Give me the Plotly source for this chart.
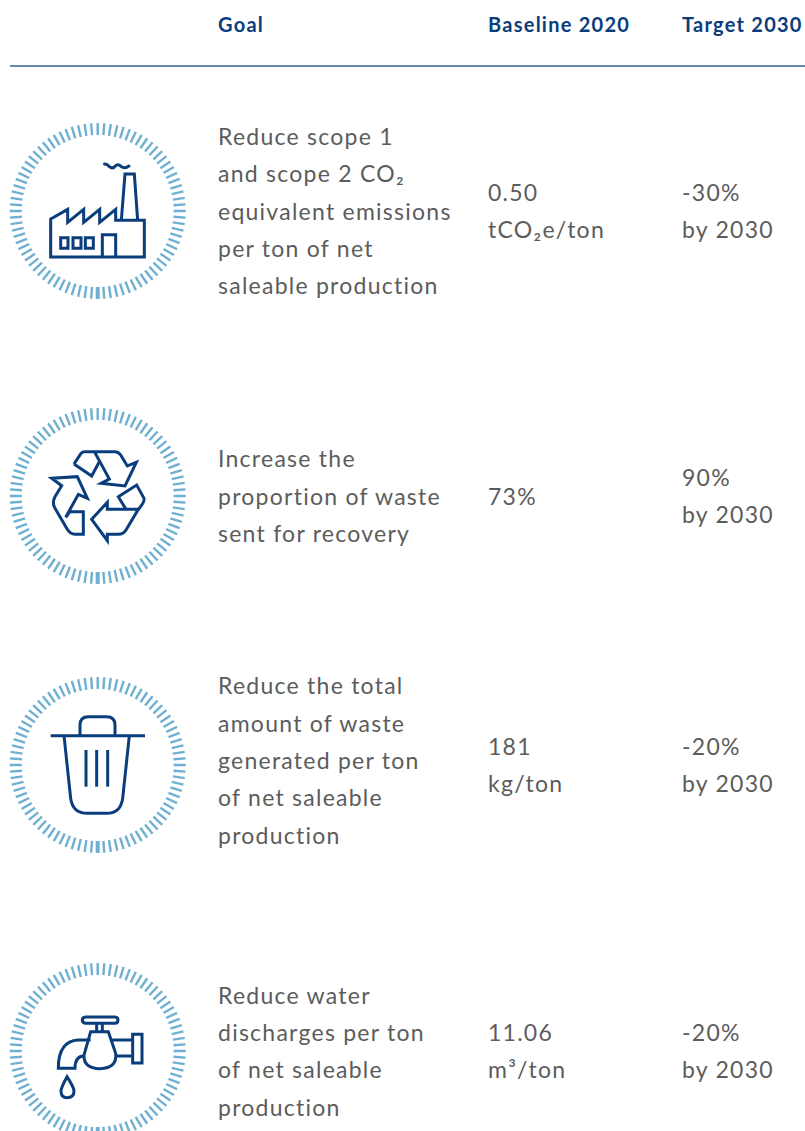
import math
import plotly.graph_objects as go

headers = ["Goal", "Baseline 2020", "Target 2030"]
goals = [
    ["Reduce scope 1", "and scope 2 CO₂", "equivalent emissions", "per ton of net", "saleable production"],
    ["Increase the", "proportion of waste", "sent for recovery"],
    ["Reduce the total", "amount of waste", "generated per ton", "of net saleable", "production"],
    ["Reduce water", "discharges per ton", "of net saleable", "production"],
]
baselines = [["0.50", "tCO₂e/ton"], ["73%"], ["181", "kg/ton"], ["11.06", "m³/ton"]]
targets = [["-30%", "by 2030"], ["90%", "by 2030"], ["-20%", "by 2030"], ["-20%", "by 2030"]]
goal_y = [[136, 173, 211, 248, 285], [458, 496, 533], [685, 723, 760, 797, 835], [995, 1032, 1069, 1107]]
base_y = [[192, 229], [496], [746, 783], [1032, 1069]]
targ_y = [[192, 229], [477, 514], [746, 783], [1032, 1069]]
ring_cy = [211, 496, 765, 1051]

NAVY = "#0a3d7c"
RING = "#6fb0d2"
GREY = "#5c5c5c"
FONT = "Lato"
SIZE = 23
X_GOAL, X_BASE, X_TARG = 218, 488, 682

# icon outlines in 3x crop coordinates
ICONS = [
    (110, ["M152,327 L203,298 L203,337 L251,298 L251,337 L299,298 L299,337 L347,298 L347,331 L433,331 L433,441 L152,441 Z",
           "M364,331 L375,192 L403,192 L413,331",
           "M307,441 L307,374 L347,374 L347,441",
           "M182,383 L204,383 L204,415 L182,415 Z",
           "M219,383 L243,383 L243,415 L219,415 Z",
           "M256,383 L280,383 L280,415 L256,415 Z",
           "M310,163 Q320,160 328,170 Q338,178 346,168 Q354,160 364,170 Q374,178 390,166"]),
    (400, ["M222,192 L243,160 Q247,155 255,155 L345,155 Q355,155 362,165 L382,198 L409,187 L375,258 L303,250 L328,237 L285,158",
           "M298,185 L275,228 L222,192",
           "M197,352 L235,283 L262,295 L232,230 L155,235 L185,257 L165,290 Q155,308 165,325 L200,385 Q210,403 225,403 L250,403 L250,335 L210,335 L197,352",
           "M275,358 L322,307 L322,328 L415,328 L378,390 Q370,403 355,403 L322,403 L322,422 Z",
           "M378,328 L355,290 L410,255 L432,295 Q435,305 415,328"]),
    (670, ["M152,197 L435,197",
           "M240,197 L240,165 Q240,140 265,140 L320,140 Q345,140 345,165 L345,197",
           "M192,197 L212,385 Q218,430 262,430 L320,430 Q362,430 368,385 L388,197",
           "M258,240 L258,350", "M290,240 L290,350", "M323,240 L323,350"]),
    (955, ["M258,186 L345,186 Q354,186 354,195 Q354,205 345,205 L258,205 Q247,205 247,195 Q247,186 258,186 Z",
           "M290,205 L290,230 M307,205 L307,230",
           "M272,230 L325,230 L347,295 Q352,340 300,341 Q250,340 252,300 Z",
           "M272,255 L235,255 Q175,258 175,340 L225,340 Q225,303 252,303",
           "M333,255 L400,255 M347,303 L400,303",
           "M398,238 L426,238 L426,324 L398,324 Z",
           "M201,365 Q183,398 183,408 Q183,428 201,428 Q222,428 222,408 Q222,398 201,365 Z"]),
]


def scale_path(path, dy):
    out = []
    for tok in path.split():
        cmd = tok[0] if tok[0].isalpha() else ""
        nums = tok[len(cmd):].split(",")
        if nums == [""]:
            out.append(cmd)
        else:
            out.append(f"{cmd}{float(nums[0]) / 3:.2f},{float(nums[1]) / 3 + dy:.2f}")
    return " ".join(out)


shapes = [dict(type="line", x0=10, x1=805, y0=66, y1=66, line=dict(color="#2f6390", width=1.5))]

N_TICKS = 84
CX, R0, R1 = 97.7, 76, 88
for cy in ring_cy:
    segs = []
    for i in range(N_TICKS):
        a = 2 * math.pi * i / N_TICKS
        sx, sy = math.sin(a), math.cos(a)
        segs.append(f"M{CX + R0 * sx:.2f},{cy + R0 * sy:.2f} L{CX + R1 * sx:.2f},{cy + R1 * sy:.2f}")
    shapes.append(dict(type="path", path=" ".join(segs), line=dict(color=RING, width=2.4)))
    shapes.append(dict(type="line", x0=CX, x1=CX, y0=cy + R0, y1=cy + R1, line=dict(color=RING, width=4)))

for dy, paths in ICONS:
    for p in paths:
        shapes.append(dict(type="path", path=scale_path(p, dy), line=dict(color=NAVY, width=3)))


def label(x, y, text, color=GREY, size=SIZE, family=FONT):
    return dict(x=x, y=y, text=text, xref="x", yref="y", xanchor="left", yanchor="middle",
                showarrow=False, align="left", xshift=-2, font=dict(family=family, size=size, color=color))


annotations = []
for x, h in zip([X_GOAL, X_BASE, X_TARG], headers):
    annotations.append(label(x, 24, f"<b>{h}</b>", color=NAVY, size=20))
for lines, ys in zip(goals, goal_y):
    annotations += [label(X_GOAL, y, t) for t, y in zip(lines, ys)]
for lines, ys in zip(baselines, base_y):
    annotations += [label(X_BASE, y, t) for t, y in zip(lines, ys)]
for lines, ys in zip(targets, targ_y):
    annotations += [label(X_TARG, y, t) for t, y in zip(lines, ys)]

fig = go.Figure()
fig.update_layout(
    width=805, height=1131, margin=dict(l=0, r=0, t=0, b=0),
    paper_bgcolor="white", plot_bgcolor="white", showlegend=False,
    xaxis=dict(range=[0, 805], visible=False, fixedrange=True),
    yaxis=dict(range=[1131, 0], visible=False, fixedrange=True),
    shapes=shapes, annotations=annotations,
)
spacing_js = """
document.body.style.margin='0';
document.querySelectorAll('.annotation text').forEach(function(t){
  t.style.letterSpacing = t.querySelector('b') ? '0.9px' : '1.25px';
});
"""
fig.write_html("out.html", config=dict(displayModeBar=False), post_script=spacing_js)
